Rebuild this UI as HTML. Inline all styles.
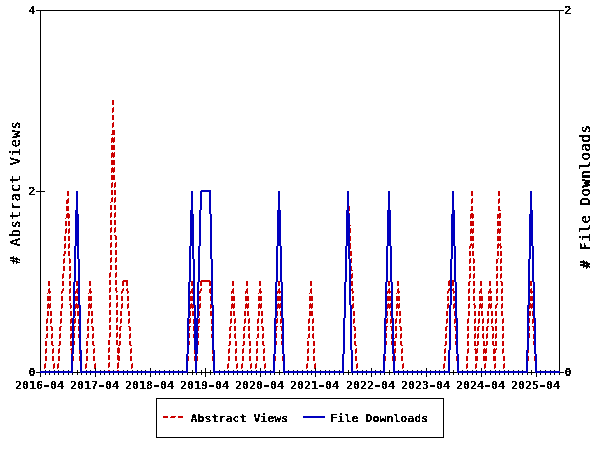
<!DOCTYPE html>
<html lang="en"><head><meta charset="utf-8"><title>Abstract Views and File Downloads</title>
<style>html,body{margin:0;padding:0;background:#fff}body{width:600px;height:450px;overflow:hidden}svg{display:block}text{font-family:'DejaVu Sans Mono','Liberation Mono',monospace;font-weight:bold;fill:#000}.s{font-size:11px}.g{font-size:13.5px;letter-spacing:0.87px;font-weight:normal}</style></head><body>
<svg width="600" height="450" viewBox="0 0 600 450">
<rect x="0" y="0" width="600" height="450" fill="#fff"/>
<g shape-rendering="crispEdges" stroke="none">
<path fill="#000000" d="M36 10h4v1h-4zM36 191h4v1h-4zM36 372h4v1h-4zM40 10h1v361h-1zM40 373h1v4h-1zM41 10h518v1h-518zM41 191h4v1h-4zM45 370h1v1h-1zM45 373h1v2h-1zM49 370h1v1h-1zM49 373h1v2h-1zM54 370h1v1h-1zM54 373h1v2h-1zM58 370h1v1h-1zM58 373h1v2h-1zM63 370h1v1h-1zM63 373h1v2h-1zM68 370h1v1h-1zM68 373h1v2h-1zM72 373h1v2h-1zM73 372h4v1h-4zM77 370h1v5h-1zM78 372h2v1h-2zM81 373h1v2h-1zM86 370h1v1h-1zM86 373h1v2h-1zM90 370h1v1h-1zM90 373h1v2h-1zM95 368h1v3h-1zM95 373h1v4h-1zM100 370h1v1h-1zM100 373h1v2h-1zM104 370h1v1h-1zM104 373h1v2h-1zM109 373h1v2h-1zM113 370h1v1h-1zM113 373h1v2h-1zM118 373h1v2h-1zM123 370h1v1h-1zM123 373h1v2h-1zM127 370h1v1h-1zM127 373h1v2h-1zM132 370h1v1h-1zM132 373h1v2h-1zM137 370h1v1h-1zM137 373h1v2h-1zM141 370h1v1h-1zM141 373h1v2h-1zM145 370h1v1h-1zM145 373h1v2h-1zM150 368h1v3h-1zM150 373h1v4h-1zM155 370h1v1h-1zM155 373h1v2h-1zM156 398h1v40h-1zM157 398h286v1h-286zM157 437h286v1h-286zM159 370h1v1h-1zM159 373h1v2h-1zM164 370h1v1h-1zM164 373h1v2h-1zM169 370h1v1h-1zM169 373h1v2h-1zM173 370h1v1h-1zM173 373h1v2h-1zM178 370h1v1h-1zM178 373h1v2h-1zM182 370h1v1h-1zM182 373h1v2h-1zM187 373h1v2h-1zM188 372h4v1h-4zM192 370h1v5h-1zM193 372h2v1h-2zM196 373h1v2h-1zM197 372h4v1h-4zM201 370h1v5h-1zM202 372h3v1h-3zM205 368h1v9h-1zM206 372h4v1h-4zM210 370h1v5h-1zM211 372h2v1h-2zM214 373h1v2h-1zM219 370h1v1h-1zM219 373h1v2h-1zM224 370h1v1h-1zM224 373h1v2h-1zM228 370h1v1h-1zM228 373h1v2h-1zM233 370h1v1h-1zM233 373h1v2h-1zM237 370h1v1h-1zM237 373h1v2h-1zM242 370h1v1h-1zM242 373h1v2h-1zM247 370h1v1h-1zM247 373h1v2h-1zM251 370h1v1h-1zM251 373h1v2h-1zM256 370h1v1h-1zM256 373h1v2h-1zM260 368h1v3h-1zM260 373h1v4h-1zM265 370h1v1h-1zM265 373h1v2h-1zM270 370h1v1h-1zM270 373h1v2h-1zM274 373h1v2h-1zM275 372h4v1h-4zM279 370h1v5h-1zM280 372h3v1h-3zM284 373h1v2h-1zM288 370h1v1h-1zM288 373h1v2h-1zM293 370h1v1h-1zM293 373h1v2h-1zM297 370h1v1h-1zM297 373h1v2h-1zM302 370h1v1h-1zM302 373h1v2h-1zM307 370h1v1h-1zM307 373h1v2h-1zM311 370h1v1h-1zM311 373h1v2h-1zM315 368h1v3h-1zM315 373h1v4h-1zM320 370h1v1h-1zM320 373h1v2h-1zM325 370h1v1h-1zM325 373h1v2h-1zM329 370h1v1h-1zM329 373h1v2h-1zM334 370h1v1h-1zM334 373h1v2h-1zM339 370h1v1h-1zM339 373h1v2h-1zM343 373h1v2h-1zM344 372h4v1h-4zM348 370h1v5h-1zM349 372h2v1h-2zM352 373h1v2h-1zM357 370h1v1h-1zM357 373h1v2h-1zM362 370h1v1h-1zM362 373h1v2h-1zM366 370h1v1h-1zM366 373h1v2h-1zM371 368h1v3h-1zM371 373h1v4h-1zM375 370h1v1h-1zM375 373h1v2h-1zM380 370h1v1h-1zM380 373h1v2h-1zM384 373h1v2h-1zM385 372h4v1h-4zM389 370h1v5h-1zM390 372h3v1h-3zM394 373h1v2h-1zM398 370h1v1h-1zM398 373h1v2h-1zM403 370h1v1h-1zM403 373h1v2h-1zM407 370h1v1h-1zM407 373h1v2h-1zM412 370h1v1h-1zM412 373h1v2h-1zM417 370h1v1h-1zM417 373h1v2h-1zM421 370h1v1h-1zM421 373h1v2h-1zM426 368h1v3h-1zM426 373h1v4h-1zM430 370h1v1h-1zM430 373h1v2h-1zM435 370h1v1h-1zM435 373h1v2h-1zM439 370h1v1h-1zM439 373h1v2h-1zM443 398h1v40h-1zM444 370h1v1h-1zM444 373h1v2h-1zM449 373h1v2h-1zM450 372h3v1h-3zM453 370h1v5h-1zM454 372h3v1h-3zM458 373h1v2h-1zM462 370h1v1h-1zM462 373h1v2h-1zM467 370h1v1h-1zM467 373h1v2h-1zM472 370h1v1h-1zM472 373h1v2h-1zM476 370h1v1h-1zM476 373h1v2h-1zM481 368h1v3h-1zM481 373h1v4h-1zM485 370h1v1h-1zM485 373h1v2h-1zM490 370h1v1h-1zM490 373h1v2h-1zM495 370h1v1h-1zM495 373h1v2h-1zM499 370h1v1h-1zM499 373h1v2h-1zM504 370h1v1h-1zM504 373h1v2h-1zM508 370h1v1h-1zM508 373h1v2h-1zM513 370h1v1h-1zM513 373h1v2h-1zM518 370h1v1h-1zM518 373h1v2h-1zM522 370h1v1h-1zM522 373h1v2h-1zM527 373h1v2h-1zM528 372h3v1h-3zM531 370h1v5h-1zM532 372h3v1h-3zM536 373h1v4h-1zM540 370h1v1h-1zM540 373h1v2h-1zM545 370h1v1h-1zM545 373h1v2h-1zM550 370h1v1h-1zM550 373h1v2h-1zM554 370h1v1h-1zM554 373h1v2h-1zM559 10h1v361h-1zM559 373h1v2h-1zM560 10h4v1h-4zM560 372h4v1h-4z"/>
<path fill="#CC0000" d="M44 364h1v5h-1zM45 338h1v1h-1zM45 341h2v5h-2zM45 349h1v5h-1zM45 356h2v5h-2zM45 363h1v5h-1zM46 319h1v5h-1zM46 326h2v5h-2zM46 334h1v4h-1zM46 348h1v5h-1zM47 293h1v1h-1zM47 296h4v5h-4zM47 304h1v5h-1zM47 311h2v5h-2zM47 318h1v5h-1zM47 333h1v5h-1zM48 281h2v5h-2zM48 289h1v4h-1zM48 303h1v5h-1zM49 288h1v6h-1zM49 304h1v5h-1zM50 291h1v2h-1zM50 303h1v5h-1zM50 311h2v5h-2zM50 319h1v5h-1zM50 326h1v1h-1zM51 318h1v5h-1zM51 326h1v5h-1zM51 334h1v5h-1zM51 341h1v4h-1zM52 327h1v4h-1zM52 333h1v5h-1zM52 341h1v5h-1zM52 349h1v5h-1zM52 356h2v5h-2zM53 345h1v1h-1zM53 348h1v5h-1zM53 364h1v5h-1zM54 363h1v5h-1zM57 364h1v5h-1zM58 345h1v1h-1zM58 349h1v5h-1zM58 356h2v5h-2zM58 363h1v5h-1zM59 327h1v4h-1zM59 334h1v5h-1zM59 341h1v5h-1zM59 348h1v5h-1zM60 311h2v5h-2zM60 319h1v5h-1zM60 326h1v5h-1zM60 333h1v5h-1zM60 341h1v4h-1zM61 291h1v3h-1zM61 296h2v5h-2zM61 304h1v5h-1zM61 318h1v5h-1zM61 326h1v1h-1zM62 274h1v5h-1zM62 281h2v5h-2zM62 289h1v4h-1zM62 303h1v5h-1zM63 254h1v2h-1zM63 259h1v5h-1zM63 266h2v5h-2zM63 273h1v5h-1zM63 288h1v3h-1zM64 236h2v5h-2zM64 244h1v5h-1zM64 251h1v5h-1zM64 258h1v5h-1zM65 218h1v1h-1zM65 221h2v5h-2zM65 229h1v5h-1zM65 243h1v5h-1zM65 251h1v3h-1zM66 200h1v4h-1zM66 206h3v5h-3zM66 214h1v4h-1zM66 228h1v5h-1zM67 191h2v5h-2zM67 199h1v5h-1zM67 213h1v5h-1zM68 198h1v5h-1zM68 213h1v6h-1zM68 221h2v5h-2zM68 229h1v5h-1zM68 236h2v5h-2zM68 244h1v5h-1zM68 251h2v5h-2zM69 214h1v4h-1zM69 228h1v5h-1zM69 243h1v5h-1zM69 258h1v6h-1zM69 266h2v5h-2zM69 274h1v5h-1zM69 281h2v5h-2zM69 289h1v5h-1zM69 296h2v5h-2zM69 304h1v1h-1zM70 259h1v4h-1zM70 273h1v5h-1zM70 288h1v5h-1zM70 303h1v6h-1zM70 311h2v5h-2zM70 319h1v5h-1zM70 326h2v5h-2zM70 334h1v5h-1zM70 341h2v5h-2zM70 349h1v1h-1zM71 305h1v3h-1zM71 318h1v5h-1zM71 333h1v5h-1zM71 348h1v6h-1zM73 356h1v5h-1zM74 319h1v5h-1zM74 326h1v5h-1zM74 333h1v5h-1zM74 341h1v4h-1zM75 291h1v3h-1zM75 296h3v5h-3zM75 304h1v5h-1zM75 311h1v5h-1zM75 318h1v5h-1zM75 326h1v1h-1zM76 281h2v5h-2zM76 289h1v4h-1zM76 303h1v5h-1zM77 288h1v6h-1zM77 304h1v5h-1zM77 311h2v5h-2zM78 305h1v3h-1zM78 319h1v5h-1zM78 326h1v5h-1zM78 334h1v4h-1zM79 350h1v4h-1zM79 356h1v5h-1zM85 364h1v5h-1zM86 338h1v1h-1zM86 341h2v5h-2zM86 349h1v5h-1zM86 356h2v5h-2zM86 363h1v5h-1zM87 319h1v5h-1zM87 326h2v5h-2zM87 334h1v4h-1zM87 348h1v5h-1zM88 293h1v1h-1zM88 296h4v5h-4zM88 304h1v5h-1zM88 311h2v5h-2zM88 318h1v5h-1zM88 333h1v5h-1zM89 281h2v5h-2zM89 289h1v4h-1zM89 303h1v5h-1zM90 288h1v6h-1zM90 304h1v5h-1zM91 291h1v2h-1zM91 303h1v5h-1zM91 311h2v5h-2zM91 319h1v5h-1zM91 326h1v1h-1zM92 318h1v5h-1zM92 326h1v5h-1zM92 334h1v5h-1zM92 341h1v4h-1zM93 327h1v4h-1zM93 333h1v5h-1zM93 341h1v5h-1zM93 349h1v5h-1zM93 356h2v5h-2zM94 345h1v1h-1zM94 348h1v5h-1zM94 364h1v5h-1zM95 363h1v5h-1zM108 340h2v5h-2zM108 348h1v5h-1zM108 355h2v5h-2zM108 363h1v5h-1zM108 370h2v1h-2zM109 273h1v5h-1zM109 280h2v5h-2zM109 288h1v5h-1zM109 295h2v5h-2zM109 303h1v5h-1zM109 310h2v5h-2zM109 318h1v5h-1zM109 325h2v5h-2zM109 333h1v5h-1zM109 347h1v5h-1zM109 362h1v5h-1zM110 202h1v1h-1zM110 205h2v5h-2zM110 213h1v5h-1zM110 220h2v5h-2zM110 228h1v5h-1zM110 235h2v5h-2zM110 243h1v5h-1zM110 250h2v5h-2zM110 258h1v5h-1zM110 265h2v5h-2zM110 272h1v5h-1zM110 287h1v5h-1zM110 302h1v5h-1zM110 317h1v5h-1zM110 332h1v5h-1zM111 134h1v1h-1zM111 138h1v5h-1zM111 145h4v5h-4zM111 153h1v5h-1zM111 160h4v5h-4zM111 168h1v5h-1zM111 175h4v5h-4zM111 183h1v5h-1zM111 190h2v5h-2zM111 198h1v4h-1zM111 212h1v5h-1zM111 227h1v5h-1zM111 242h1v5h-1zM111 257h1v5h-1zM112 100h2v5h-2zM112 108h1v5h-1zM112 115h2v5h-2zM112 123h1v5h-1zM112 130h3v5h-3zM112 137h1v5h-1zM112 152h1v5h-1zM112 167h1v5h-1zM112 182h1v5h-1zM112 197h1v5h-1zM113 107h1v5h-1zM113 122h1v5h-1zM113 138h1v5h-1zM113 153h1v5h-1zM113 168h1v5h-1zM114 137h1v5h-1zM114 152h1v5h-1zM114 167h1v5h-1zM114 183h1v5h-1zM114 190h2v5h-2zM114 198h1v5h-1zM114 205h2v5h-2zM114 213h1v5h-1zM114 220h2v5h-2zM114 228h1v5h-1zM114 235h1v1h-1zM115 182h1v5h-1zM115 197h1v5h-1zM115 212h1v5h-1zM115 227h1v5h-1zM115 235h1v5h-1zM115 243h1v5h-1zM115 250h2v5h-2zM115 258h1v5h-1zM115 265h2v5h-2zM115 273h1v5h-1zM115 280h2v5h-2zM115 288h1v3h-1zM116 236h1v4h-1zM116 242h1v5h-1zM116 257h1v5h-1zM116 272h1v5h-1zM116 287h1v6h-1zM116 295h2v5h-2zM116 303h1v5h-1zM116 310h2v5h-2zM116 318h1v5h-1zM116 325h2v5h-2zM116 333h1v5h-1zM116 340h2v5h-2zM117 291h1v1h-1zM117 302h1v5h-1zM117 317h1v5h-1zM117 332h1v5h-1zM117 348h1v5h-1zM117 355h1v5h-1zM117 363h1v6h-1zM117 370h2v1h-2zM118 345h1v1h-1zM118 347h1v7h-1zM118 355h1v6h-1zM118 362h1v6h-1zM119 327h1v4h-1zM119 334h1v5h-1zM119 341h1v5h-1zM119 348h1v5h-1zM119 356h1v5h-1zM120 311h2v5h-2zM120 319h1v5h-1zM120 326h1v5h-1zM120 333h1v5h-1zM120 341h1v4h-1zM121 291h1v3h-1zM121 296h2v5h-2zM121 304h1v5h-1zM121 318h1v5h-1zM121 326h1v1h-1zM122 281h1v5h-1zM122 289h1v4h-1zM122 303h1v5h-1zM123 280h1v6h-1zM123 288h1v3h-1zM124 280h2v2h-2zM126 280h2v6h-2zM126 289h1v2h-1zM127 288h1v6h-1zM127 296h2v5h-2zM127 304h1v5h-1zM128 291h1v2h-1zM128 303h1v5h-1zM128 311h2v5h-2zM128 319h1v5h-1zM128 326h1v1h-1zM129 318h1v5h-1zM129 326h1v5h-1zM129 334h1v5h-1zM129 341h1v4h-1zM130 327h1v4h-1zM130 333h1v5h-1zM130 341h1v5h-1zM130 349h1v5h-1zM130 356h2v5h-2zM131 345h1v1h-1zM131 348h1v5h-1zM131 364h1v5h-1zM132 363h1v5h-1zM163 416h5v2h-5zM170 417h1v1h-1zM171 416h4v2h-4zM175 416h1v1h-1zM178 416h5v2h-5zM188 356h1v5h-1zM189 319h1v5h-1zM189 326h1v5h-1zM189 333h1v5h-1zM189 341h1v4h-1zM190 291h1v3h-1zM190 296h3v5h-3zM190 304h1v5h-1zM190 311h1v5h-1zM190 318h1v5h-1zM190 326h1v1h-1zM191 281h2v5h-2zM191 289h1v4h-1zM191 303h1v5h-1zM192 288h1v6h-1zM192 304h1v5h-1zM192 311h2v5h-2zM193 305h1v3h-1zM193 319h1v5h-1zM193 326h1v5h-1zM193 334h1v4h-1zM194 350h1v4h-1zM194 356h1v5h-1zM197 356h1v5h-1zM198 319h1v5h-1zM198 326h1v5h-1zM198 333h1v5h-1zM198 341h1v4h-1zM199 291h1v3h-1zM199 296h2v5h-2zM199 304h1v5h-1zM199 311h1v5h-1zM199 318h1v5h-1zM199 326h1v1h-1zM200 281h1v5h-1zM200 289h1v4h-1zM200 303h1v5h-1zM201 280h1v6h-1zM201 288h1v3h-1zM202 280h7v2h-7zM209 280h1v6h-1zM209 289h1v4h-1zM210 281h1v5h-1zM210 288h1v6h-1zM210 296h1v5h-1zM210 304h1v5h-1zM210 311h2v5h-2zM211 305h1v3h-1zM211 319h1v5h-1zM211 326h1v5h-1zM211 334h1v4h-1zM212 350h1v4h-1zM212 356h1v5h-1zM227 364h1v5h-1zM228 345h1v1h-1zM228 349h1v5h-1zM228 356h2v5h-2zM228 363h1v5h-1zM229 327h1v4h-1zM229 334h1v5h-1zM229 341h1v5h-1zM229 348h1v5h-1zM230 311h2v5h-2zM230 319h1v5h-1zM230 326h1v5h-1zM230 333h1v5h-1zM230 341h1v4h-1zM231 291h1v3h-1zM231 296h4v5h-4zM231 304h1v5h-1zM231 318h1v5h-1zM231 326h1v1h-1zM232 281h2v5h-2zM232 289h1v4h-1zM232 303h1v5h-1zM233 288h1v6h-1zM233 304h1v5h-1zM233 311h2v5h-2zM234 303h1v5h-1zM234 319h1v5h-1zM234 326h2v5h-2zM234 334h1v4h-1zM235 318h1v5h-1zM235 333h1v6h-1zM235 341h2v5h-2zM235 349h1v5h-1zM235 356h2v5h-2zM236 348h1v5h-1zM236 364h1v5h-1zM237 363h1v5h-1zM241 364h1v5h-1zM242 345h1v1h-1zM242 349h1v5h-1zM242 356h2v5h-2zM242 363h1v5h-1zM243 327h1v4h-1zM243 334h1v5h-1zM243 341h1v5h-1zM243 348h1v5h-1zM244 311h2v5h-2zM244 319h1v5h-1zM244 326h1v5h-1zM244 333h1v5h-1zM244 341h1v4h-1zM245 291h1v3h-1zM245 296h4v5h-4zM245 304h1v5h-1zM245 318h1v5h-1zM245 326h1v1h-1zM246 281h2v5h-2zM246 289h1v4h-1zM246 303h1v5h-1zM247 288h1v6h-1zM247 304h1v5h-1zM247 311h2v5h-2zM248 303h1v5h-1zM248 319h1v5h-1zM248 326h2v5h-2zM248 334h1v4h-1zM249 318h1v5h-1zM249 333h1v6h-1zM249 341h2v5h-2zM249 349h1v5h-1zM249 356h2v5h-2zM250 348h1v5h-1zM250 364h1v5h-1zM251 363h1v5h-1zM255 364h1v5h-1zM256 338h1v1h-1zM256 341h2v5h-2zM256 349h1v5h-1zM256 356h2v5h-2zM256 363h1v5h-1zM257 319h1v5h-1zM257 326h2v5h-2zM257 334h1v4h-1zM257 348h1v5h-1zM258 293h1v1h-1zM258 296h4v5h-4zM258 304h1v5h-1zM258 311h2v5h-2zM258 318h1v5h-1zM258 333h1v5h-1zM259 281h2v5h-2zM259 289h1v4h-1zM259 303h1v5h-1zM260 288h1v6h-1zM260 304h1v5h-1zM261 291h1v2h-1zM261 303h1v5h-1zM261 311h2v5h-2zM261 319h1v5h-1zM261 326h1v1h-1zM262 318h1v5h-1zM262 326h1v5h-1zM262 334h1v5h-1zM262 341h1v4h-1zM263 327h1v4h-1zM263 333h1v5h-1zM263 341h1v5h-1zM263 349h1v5h-1zM263 356h2v5h-2zM264 345h1v1h-1zM264 348h1v5h-1zM264 364h1v5h-1zM265 363h1v5h-1zM275 356h1v5h-1zM276 319h1v5h-1zM276 326h1v5h-1zM276 333h1v5h-1zM276 341h1v4h-1zM277 291h1v3h-1zM277 296h4v5h-4zM277 304h1v5h-1zM277 311h1v5h-1zM277 318h1v5h-1zM277 326h1v1h-1zM278 281h2v5h-2zM278 289h1v4h-1zM278 303h1v5h-1zM279 288h1v6h-1zM279 304h1v5h-1zM280 291h1v2h-1zM280 303h1v5h-1zM280 311h1v5h-1zM280 319h1v5h-1zM280 326h1v1h-1zM281 318h1v5h-1zM281 326h1v5h-1zM281 334h1v5h-1zM281 341h1v4h-1zM282 356h1v5h-1zM306 364h1v5h-1zM307 338h1v1h-1zM307 341h2v5h-2zM307 349h1v5h-1zM307 356h2v5h-2zM307 363h1v5h-1zM308 319h1v5h-1zM308 326h2v5h-2zM308 334h1v4h-1zM308 348h1v5h-1zM309 293h1v1h-1zM309 296h4v5h-4zM309 304h1v5h-1zM309 311h4v5h-4zM309 318h1v5h-1zM309 333h1v5h-1zM310 281h2v5h-2zM310 289h1v4h-1zM310 303h1v5h-1zM311 288h1v6h-1zM311 304h1v5h-1zM312 303h1v5h-1zM312 319h1v5h-1zM312 326h2v5h-2zM312 334h1v4h-1zM313 318h1v5h-1zM313 333h1v6h-1zM313 341h2v5h-2zM313 349h1v5h-1zM313 356h2v5h-2zM314 348h1v5h-1zM314 364h1v5h-1zM315 363h1v5h-1zM349 206h1v5h-1zM349 213h1v1h-1zM350 225h1v1h-1zM350 228h1v5h-1zM350 236h1v5h-1zM350 243h1v6h-1zM350 251h2v5h-2zM351 258h1v5h-1zM351 266h1v5h-1zM351 274h1v5h-1zM351 281h2v5h-2zM351 289h1v2h-1zM352 270h1v1h-1zM352 273h1v5h-1zM352 288h1v6h-1zM352 296h2v5h-2zM352 304h1v5h-1zM353 291h1v2h-1zM353 303h1v5h-1zM353 311h2v5h-2zM353 319h1v5h-1zM353 326h1v1h-1zM354 318h1v5h-1zM354 326h1v5h-1zM354 334h1v5h-1zM354 341h1v4h-1zM355 327h1v4h-1zM355 333h1v5h-1zM355 341h1v5h-1zM355 349h1v5h-1zM355 356h2v5h-2zM356 345h1v1h-1zM356 348h1v5h-1zM356 364h1v5h-1zM357 363h1v5h-1zM385 356h1v5h-1zM386 319h1v5h-1zM386 326h1v5h-1zM386 333h1v5h-1zM386 341h1v4h-1zM387 291h1v3h-1zM387 296h4v5h-4zM387 304h1v5h-1zM387 311h1v5h-1zM387 318h1v5h-1zM387 326h1v1h-1zM388 281h2v5h-2zM388 289h1v4h-1zM388 303h1v5h-1zM389 288h1v6h-1zM389 304h1v5h-1zM390 291h1v2h-1zM390 303h1v5h-1zM390 311h1v5h-1zM390 319h1v5h-1zM390 326h1v1h-1zM391 318h1v5h-1zM391 326h1v5h-1zM391 334h1v5h-1zM391 341h1v4h-1zM392 356h1v5h-1zM394 338h1v1h-1zM394 341h2v5h-2zM394 349h1v5h-1zM395 319h1v5h-1zM395 326h2v5h-2zM395 334h1v4h-1zM395 348h1v5h-1zM395 356h1v5h-1zM396 293h1v1h-1zM396 296h4v5h-4zM396 304h1v5h-1zM396 311h2v5h-2zM396 318h1v5h-1zM396 333h1v5h-1zM397 281h2v5h-2zM397 289h1v4h-1zM397 303h1v5h-1zM398 288h1v6h-1zM398 304h1v5h-1zM399 291h1v2h-1zM399 303h1v5h-1zM399 311h2v5h-2zM399 319h1v5h-1zM399 326h1v1h-1zM400 318h1v5h-1zM400 326h1v5h-1zM400 334h1v5h-1zM400 341h1v4h-1zM401 327h1v4h-1zM401 333h1v5h-1zM401 341h1v5h-1zM401 349h1v5h-1zM401 356h2v5h-2zM402 345h1v1h-1zM402 348h1v5h-1zM402 364h1v5h-1zM403 363h1v5h-1zM443 364h1v5h-1zM444 345h1v1h-1zM444 349h1v5h-1zM444 356h2v5h-2zM444 363h1v5h-1zM445 327h1v4h-1zM445 334h1v5h-1zM445 341h1v5h-1zM445 348h1v5h-1zM446 311h2v5h-2zM446 319h1v5h-1zM446 326h1v5h-1zM446 333h1v5h-1zM446 341h1v4h-1zM447 291h1v3h-1zM447 296h2v5h-2zM447 304h1v5h-1zM447 318h1v5h-1zM447 326h1v1h-1zM448 281h1v5h-1zM448 289h1v4h-1zM448 303h1v5h-1zM449 280h1v6h-1zM449 288h1v3h-1zM452 280h2v6h-2zM452 289h1v2h-1zM453 288h1v6h-1zM453 296h2v5h-2zM453 304h1v5h-1zM454 291h1v2h-1zM454 303h1v5h-1zM454 311h1v5h-1zM454 319h1v5h-1zM454 326h1v1h-1zM455 318h1v5h-1zM455 326h1v5h-1zM455 334h1v5h-1zM455 341h1v4h-1zM456 356h1v5h-1zM466 356h2v5h-2zM466 364h1v5h-1zM467 319h1v5h-1zM467 326h2v5h-2zM467 334h1v5h-1zM467 341h2v5h-2zM467 349h1v5h-1zM467 363h1v5h-1zM468 282h1v4h-1zM468 289h1v5h-1zM468 296h2v5h-2zM468 304h1v5h-1zM468 311h2v5h-2zM468 318h1v5h-1zM468 333h1v5h-1zM468 348h1v5h-1zM469 246h1v3h-1zM469 251h2v5h-2zM469 259h1v5h-1zM469 266h2v5h-2zM469 274h1v5h-1zM469 281h1v5h-1zM469 288h1v5h-1zM469 303h1v5h-1zM470 210h1v1h-1zM470 214h1v5h-1zM470 221h4v5h-4zM470 229h1v5h-1zM470 236h4v5h-4zM470 244h1v4h-1zM470 258h1v5h-1zM470 273h1v5h-1zM470 281h1v1h-1zM471 191h2v5h-2zM471 199h1v5h-1zM471 206h2v5h-2zM471 213h1v5h-1zM471 228h1v5h-1zM471 243h1v3h-1zM472 198h1v5h-1zM472 213h1v6h-1zM472 229h1v5h-1zM472 244h1v5h-1zM472 251h2v5h-2zM473 214h1v4h-1zM473 228h1v5h-1zM473 243h1v5h-1zM473 258h1v6h-1zM473 266h2v5h-2zM473 274h1v5h-1zM473 281h2v5h-2zM473 289h1v5h-1zM473 296h2v5h-2zM473 304h1v1h-1zM474 259h1v4h-1zM474 273h1v5h-1zM474 288h1v5h-1zM474 303h1v6h-1zM474 311h2v5h-2zM474 319h1v5h-1zM474 326h2v5h-2zM474 334h1v5h-1zM474 341h2v5h-2zM474 349h1v1h-1zM475 305h1v3h-1zM475 318h1v5h-1zM475 333h1v5h-1zM475 348h1v6h-1zM475 356h3v5h-3zM475 364h1v5h-1zM476 345h1v1h-1zM476 349h1v5h-1zM476 363h1v5h-1zM477 327h1v4h-1zM477 334h1v5h-1zM477 341h1v5h-1zM477 348h1v5h-1zM478 311h2v5h-2zM478 319h1v5h-1zM478 326h1v5h-1zM478 333h1v5h-1zM478 341h1v4h-1zM479 291h1v3h-1zM479 296h4v5h-4zM479 304h1v5h-1zM479 318h1v5h-1zM479 326h1v1h-1zM480 281h2v5h-2zM480 289h1v4h-1zM480 303h1v5h-1zM481 288h1v6h-1zM481 304h1v5h-1zM481 311h2v5h-2zM482 303h1v5h-1zM482 319h1v5h-1zM482 326h2v5h-2zM482 334h1v4h-1zM483 318h1v5h-1zM483 333h1v6h-1zM483 341h2v5h-2zM483 349h1v5h-1zM483 356h4v5h-4zM484 348h1v5h-1zM484 364h1v5h-1zM485 345h1v1h-1zM485 349h1v5h-1zM485 363h1v5h-1zM486 327h1v4h-1zM486 334h1v5h-1zM486 341h1v5h-1zM486 348h1v5h-1zM487 311h2v5h-2zM487 319h1v5h-1zM487 326h1v5h-1zM487 333h1v5h-1zM487 341h1v4h-1zM488 291h1v3h-1zM488 296h4v5h-4zM488 304h1v5h-1zM488 318h1v5h-1zM488 326h1v1h-1zM489 281h2v5h-2zM489 289h1v4h-1zM489 303h1v5h-1zM490 288h1v6h-1zM490 304h1v5h-1zM491 291h1v2h-1zM491 303h1v5h-1zM491 311h2v5h-2zM491 319h1v5h-1zM491 326h1v1h-1zM492 318h1v5h-1zM492 326h1v5h-1zM492 334h1v5h-1zM492 341h1v4h-1zM493 327h1v4h-1zM493 333h1v5h-1zM493 341h1v5h-1zM493 349h1v5h-1zM493 356h3v5h-3zM494 345h1v1h-1zM494 348h1v6h-1zM494 364h1v5h-1zM495 305h1v4h-1zM495 311h2v5h-2zM495 319h1v5h-1zM495 326h2v5h-2zM495 334h1v5h-1zM495 341h2v5h-2zM495 349h1v4h-1zM495 363h1v5h-1zM496 259h1v5h-1zM496 266h2v5h-2zM496 274h1v5h-1zM496 281h2v5h-2zM496 289h1v5h-1zM496 296h2v5h-2zM496 304h1v4h-1zM496 318h1v5h-1zM496 333h1v5h-1zM496 348h1v2h-1zM497 214h1v5h-1zM497 221h4v5h-4zM497 229h1v5h-1zM497 236h4v5h-4zM497 244h1v5h-1zM497 251h2v5h-2zM497 259h1v4h-1zM497 273h1v5h-1zM497 288h1v5h-1zM497 303h1v2h-1zM498 191h2v5h-2zM498 199h1v5h-1zM498 206h2v5h-2zM498 214h1v4h-1zM498 228h1v5h-1zM498 243h1v5h-1zM498 258h1v1h-1zM499 198h1v5h-1zM499 213h1v6h-1zM499 229h1v5h-1zM499 244h1v2h-1zM500 210h1v1h-1zM500 213h1v5h-1zM500 228h1v5h-1zM500 243h1v6h-1zM500 251h2v5h-2zM500 259h1v5h-1zM500 266h2v5h-2zM500 274h1v5h-1zM500 281h1v1h-1zM501 246h1v2h-1zM501 258h1v5h-1zM501 273h1v5h-1zM501 281h1v5h-1zM501 289h1v5h-1zM501 296h2v5h-2zM501 304h1v5h-1zM501 311h2v5h-2zM502 282h1v4h-1zM502 288h1v5h-1zM502 303h1v5h-1zM502 319h1v5h-1zM502 326h2v5h-2zM502 334h1v5h-1zM502 341h2v5h-2zM502 349h1v5h-1zM503 318h1v5h-1zM503 333h1v5h-1zM503 348h1v5h-1zM503 356h2v5h-2zM503 364h1v5h-1zM504 363h1v5h-1zM528 350h1v3h-1zM528 356h1v5h-1zM529 305h1v4h-1zM529 311h2v5h-2zM529 318h1v5h-1zM529 326h1v5h-1zM529 333h1v5h-1zM530 281h2v5h-2zM530 289h1v4h-1zM530 296h3v5h-3zM530 303h1v5h-1zM531 288h1v6h-1zM531 304h1v5h-1zM532 291h1v2h-1zM532 303h1v5h-1zM532 311h1v5h-1zM532 319h1v5h-1zM532 326h1v1h-1zM533 318h1v5h-1zM533 326h1v5h-1zM533 334h1v5h-1zM533 341h1v4h-1zM534 356h1v5h-1z"/>
<path fill="#0000BF" d="M40 371h31v2h-31zM71 354h1v19h-1zM72 318h1v55h-1zM73 282h1v72h-1zM74 246h1v72h-1zM75 210h1v72h-1zM76 191h1v55h-1zM77 191h1v68h-1zM78 214h1v91h-1zM79 259h1v91h-1zM80 305h1v68h-1zM81 350h1v23h-1zM82 371h104v2h-104zM186 354h1v19h-1zM187 318h1v55h-1zM188 282h1v72h-1zM189 246h1v72h-1zM190 210h1v72h-1zM191 191h1v55h-1zM192 191h1v68h-1zM193 214h1v91h-1zM194 259h1v91h-1zM195 305h1v68h-1zM196 318h1v55h-1zM197 282h1v72h-1zM198 246h1v72h-1zM199 210h1v72h-1zM200 191h1v55h-1zM201 190h1v20h-1zM202 190h7v2h-7zM209 190h1v24h-1zM210 190h1v69h-1zM211 214h1v91h-1zM212 259h1v91h-1zM213 305h1v68h-1zM214 350h1v23h-1zM215 371h58v2h-58zM273 354h1v19h-1zM274 318h1v55h-1zM275 282h1v72h-1zM276 246h1v72h-1zM277 210h1v72h-1zM278 191h2v55h-2zM280 210h1v72h-1zM281 246h1v72h-1zM282 282h1v72h-1zM283 318h1v55h-1zM284 354h1v19h-1zM285 371h57v2h-57zM303 416h22v2h-22zM342 354h1v19h-1zM343 318h1v55h-1zM344 282h1v72h-1zM345 246h1v72h-1zM346 210h1v72h-1zM347 191h1v55h-1zM348 191h1v68h-1zM349 214h1v91h-1zM350 259h1v91h-1zM351 305h1v68h-1zM352 350h1v23h-1zM353 371h30v2h-30zM383 354h1v19h-1zM384 318h1v55h-1zM385 282h1v72h-1zM386 246h1v72h-1zM387 210h1v72h-1zM388 191h2v55h-2zM390 210h1v72h-1zM391 246h1v72h-1zM392 282h1v72h-1zM393 318h1v55h-1zM394 354h1v19h-1zM395 371h53v2h-53zM448 350h1v23h-1zM449 305h1v68h-1zM450 259h1v91h-1zM451 214h1v91h-1zM452 191h1v68h-1zM453 191h1v55h-1zM454 210h1v72h-1zM455 246h1v72h-1zM456 282h1v72h-1zM457 318h1v55h-1zM458 354h1v19h-1zM459 371h67v2h-67zM526 350h1v23h-1zM527 305h1v68h-1zM528 259h1v91h-1zM529 214h1v91h-1zM530 191h1v68h-1zM531 191h1v55h-1zM532 210h1v72h-1zM533 246h1v72h-1zM534 282h1v72h-1zM535 318h1v55h-1zM536 354h1v19h-1zM537 371h23v2h-23z"/>
</g>
<defs><filter id="px" x="-5%" y="-5%" width="110%" height="110%" color-interpolation-filters="sRGB"><feComponentTransfer><feFuncA type="discrete" tableValues="0 0 1 1 1"/></feComponentTransfer></filter><filter id="pg" x="-5%" y="-5%" width="110%" height="110%" color-interpolation-filters="sRGB"><feComponentTransfer><feFuncA type="discrete" tableValues="0 1 1 1"/></feComponentTransfer></filter></defs>
<g filter="url(#px)">
<text class="s" transform="translate(35.6 14) scale(1.0571 1)" text-anchor="end">4</text>
<text class="s" transform="translate(35.6 195) scale(1.0571 1)" text-anchor="end">2</text>
<text class="s" transform="translate(35.6 376) scale(1.0571 1)" text-anchor="end">0</text>
<text class="s" transform="translate(564.5 14) scale(1.0571 1)">2</text>
<text class="s" transform="translate(564.5 376) scale(1.0571 1)">0</text>
<text class="s" transform="translate(39.5 389) scale(1.0571 1)"><tspan x="-23.18">2016</tspan><tspan x="1.81" y="0.6" font-size="16">-</tspan><tspan x="9.93" y="0">04</tspan></text>
<text class="s" transform="translate(94.5 389) scale(1.0571 1)"><tspan x="-23.18">2017</tspan><tspan x="1.81" y="0.6" font-size="16">-</tspan><tspan x="9.93" y="0">04</tspan></text>
<text class="s" transform="translate(149.5 389) scale(1.0571 1)"><tspan x="-23.18">2018</tspan><tspan x="1.81" y="0.6" font-size="16">-</tspan><tspan x="9.93" y="0">04</tspan></text>
<text class="s" transform="translate(204.5 389) scale(1.0571 1)"><tspan x="-23.18">2019</tspan><tspan x="1.81" y="0.6" font-size="16">-</tspan><tspan x="9.93" y="0">04</tspan></text>
<text class="s" transform="translate(259.5 389) scale(1.0571 1)"><tspan x="-23.18">2020</tspan><tspan x="1.81" y="0.6" font-size="16">-</tspan><tspan x="9.93" y="0">04</tspan></text>
<text class="s" transform="translate(314.5 389) scale(1.0571 1)"><tspan x="-23.18">2021</tspan><tspan x="1.81" y="0.6" font-size="16">-</tspan><tspan x="9.93" y="0">04</tspan></text>
<text class="s" transform="translate(370.5 389) scale(1.0571 1)"><tspan x="-23.18">2022</tspan><tspan x="1.81" y="0.6" font-size="16">-</tspan><tspan x="9.93" y="0">04</tspan></text>
<text class="s" transform="translate(425.5 389) scale(1.0571 1)"><tspan x="-23.18">2023</tspan><tspan x="1.81" y="0.6" font-size="16">-</tspan><tspan x="9.93" y="0">04</tspan></text>
<text class="s" transform="translate(480.5 389) scale(1.0571 1)"><tspan x="-23.18">2024</tspan><tspan x="1.81" y="0.6" font-size="16">-</tspan><tspan x="9.93" y="0">04</tspan></text>
<text class="s" transform="translate(535.5 389) scale(1.0571 1)"><tspan x="-23.18">2025</tspan><tspan x="1.81" y="0.6" font-size="16">-</tspan><tspan x="9.93" y="0">04</tspan></text>
</g><g filter="url(#pg)">
<text class="g" transform="translate(20 192.2) rotate(-90)" text-anchor="middle"># Abstract Views</text>
<text class="g" transform="translate(590 196.4) rotate(-90)" text-anchor="middle"># File Downloads</text>
</g><g filter="url(#px)">
<text class="s" transform="translate(190.5 422) scale(1.0571 1)">Abstract Views</text>
<text class="s" transform="translate(330.5 422) scale(1.0571 1)">File Downloads</text>
</g>
</svg></body></html>
